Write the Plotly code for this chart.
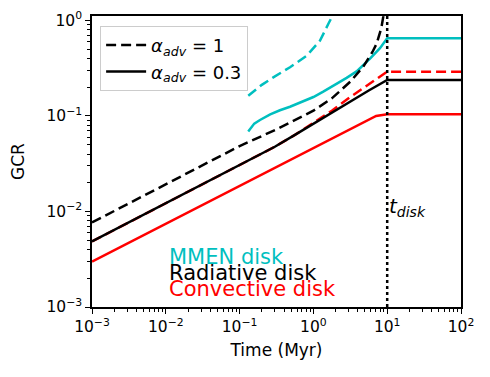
import plotly.graph_objects as go

# values (time in Myr, GCR)
t_disk = 10

rad_a1_t = [0.001, 0.01, 0.1, 0.316, 1.0, 1.778, 3.162, 4.74, 6.31, 7.21, 8.32, 8.85, 9.33]
rad_a1_y = [0.00767, 0.0193, 0.0484, 0.0724, 0.1135, 0.153, 0.229, 0.328, 0.468, 0.575, 0.832, 1.096, 1.585]

rad_a03_t = [0.001, 0.01, 0.1, 0.3, 0.562, 1.0, 1.778, 3.162, 5.623, 10, 100]
rad_a03_y = [0.00485, 0.0122, 0.0307, 0.0476, 0.0634, 0.0832, 0.109, 0.143, 0.185, 0.238, 0.238]

conv_a1_t = [0.001, 0.01, 0.1, 0.3, 0.562, 1.0, 1.778, 3.162, 5.623, 7.94, 10, 100]
conv_a1_y = [0.00485, 0.0122, 0.0307, 0.0476, 0.0634, 0.0851, 0.1135, 0.158, 0.214, 0.258, 0.291, 0.291]

conv_a03_t = [0.001, 0.01, 0.1, 0.316, 1.0, 2.51, 5.01, 7.08, 10, 100]
conv_a03_y = [0.00299, 0.00746, 0.0186, 0.0295, 0.0468, 0.0673, 0.0881, 0.1, 0.104, 0.104]

mmen_a1_t = [0.131, 0.2, 0.286, 0.482, 0.813, 1.23, 1.59, 1.77, 1.91]
mmen_a1_y = [0.163, 0.212, 0.254, 0.324, 0.428, 0.615, 0.918, 1.08, 1.41]

mmen_a03_t = [0.131, 0.145, 0.158, 0.189, 0.26, 0.352, 0.482, 1.0, 1.36, 2.82, 3.85, 5.85, 7.98, 10, 100]
mmen_a03_y = [0.0686, 0.076, 0.0832, 0.0908, 0.104, 0.1148, 0.125, 0.158, 0.180, 0.251, 0.293, 0.398, 0.513, 0.652, 0.652]

legend_labels = ["<i>α<sub>adv</sub></i> = 1", "<i>α<sub>adv</sub></i> = 0.3"]
disk_labels = ["MMEN disk", "Radiative disk", "Convective disk"]
disk_colors = ["#00bfbf", "black", "red"]

x_ticks = [1e-3, 1e-2, 1e-1, 1, 10, 100]
x_text = ["10<sup>−3</sup>", "10<sup>−2</sup>", "10<sup>−1</sup>", "10<sup>0</sup>", "10<sup>1</sup>", "10<sup>2</sup>"]
y_ticks = [1e-3, 1e-2, 1e-1, 1]
y_text = ["10<sup>−3</sup>", "10<sup>−2</sup>", "10<sup>−1</sup>", "10<sup>0</sup>"]
x_minor = [d * 10.0 ** e for e in range(-3, 2) for d in range(2, 10)]
y_minor = [d * 10.0 ** e for e in range(-3, 0) for d in range(2, 10)]

FONT = "DejaVu Sans"
LW = 2.5
DASH = "10px,5px"

fig = go.Figure()

series = [
    (mmen_a1_t, mmen_a1_y, disk_colors[0], DASH),
    (mmen_a03_t, mmen_a03_y, disk_colors[0], "solid"),
    (conv_a1_t, conv_a1_y, disk_colors[2], DASH),
    (conv_a03_t, conv_a03_y, disk_colors[2], "solid"),
    (rad_a03_t, rad_a03_y, disk_colors[1], "solid"),
    (rad_a1_t, rad_a1_y, disk_colors[1], DASH),
]
for xs, ys, col, dash in series:
    fig.add_trace(go.Scatter(x=xs, y=ys, mode="lines", showlegend=False,
                             line=dict(color=col, width=LW, dash=dash)))

# legend entries (black only, like the original)
for lab, dash in zip(legend_labels, [DASH, "solid"]):
    fig.add_trace(go.Scatter(x=[None], y=[None], mode="lines", name=lab,
                             line=dict(color="black", width=LW, dash=dash)))

fig.add_vline(x=t_disk, line=dict(color="black", width=2.5, dash="dot"))

fig.add_annotation(x=1.0, y=0.343, xref="x", yref="paper",
                   text="<i>t<sub>disk</sub></i>", showarrow=False,
                   xanchor="left", yanchor="middle", xshift=0,
                   font=dict(size=20, color="black", family=FONT))

for lab, col, yp in zip(disk_labels, disk_colors, [0.171, 0.1183, 0.0609]):
    fig.add_annotation(x=0.203, y=yp, xref="paper", yref="paper", text=lab,
                       showarrow=False, xanchor="left", yanchor="middle",
                       font=dict(size=21, color=col, family=FONT))

axis_style = dict(
    showline=True, mirror=True, linecolor="black", linewidth=1.5,
    ticks="outside", ticklen=5, tickwidth=1.2, tickcolor="black",
    showgrid=False, zeroline=False, automargin=False,
    tickfont=dict(size=15.5, color="black", family=FONT),
)

fig.update_xaxes(type="log", range=[-3, 2], tickmode="array", tickvals=x_ticks, ticktext=x_text,
                 minor=dict(tickmode="array", tickvals=x_minor, ticks="outside", ticklen=3,
                            tickwidth=1, tickcolor="black", showgrid=False),
                 title=dict(text="Time (Myr)", standoff=9,
                            font=dict(size=17, color="black", family=FONT)),
                 **axis_style)
fig.update_yaxes(type="log", range=[-3, 0.047], tickmode="array", tickvals=y_ticks, ticktext=y_text,
                 minor=dict(tickmode="array", tickvals=y_minor, ticks="outside", ticklen=3,
                            tickwidth=1, tickcolor="black", showgrid=False),
                 title=dict(text="GCR", standoff=17,
                            font=dict(size=17, color="black", family=FONT)),
                 **axis_style)

fig.update_layout(
    width=490, height=377,
    margin=dict(l=92, r=29, t=16, b=70),
    plot_bgcolor="white", paper_bgcolor="white",
    font=dict(family=FONT, color="black"),
    legend=dict(x=0.022, y=0.966, xanchor="left", yanchor="top",
                bgcolor="rgba(255,255,255,0.8)", bordercolor="#cccccc", borderwidth=1,
                itemwidth=40,
                font=dict(size=18, color="black", family=FONT)),
)

# page body has a default 8px margin; drop it so the figure sits at the corner
fig.write_html("out.html", config={"displayModeBar": False},
               post_script="document.body.style.margin='0px';")
